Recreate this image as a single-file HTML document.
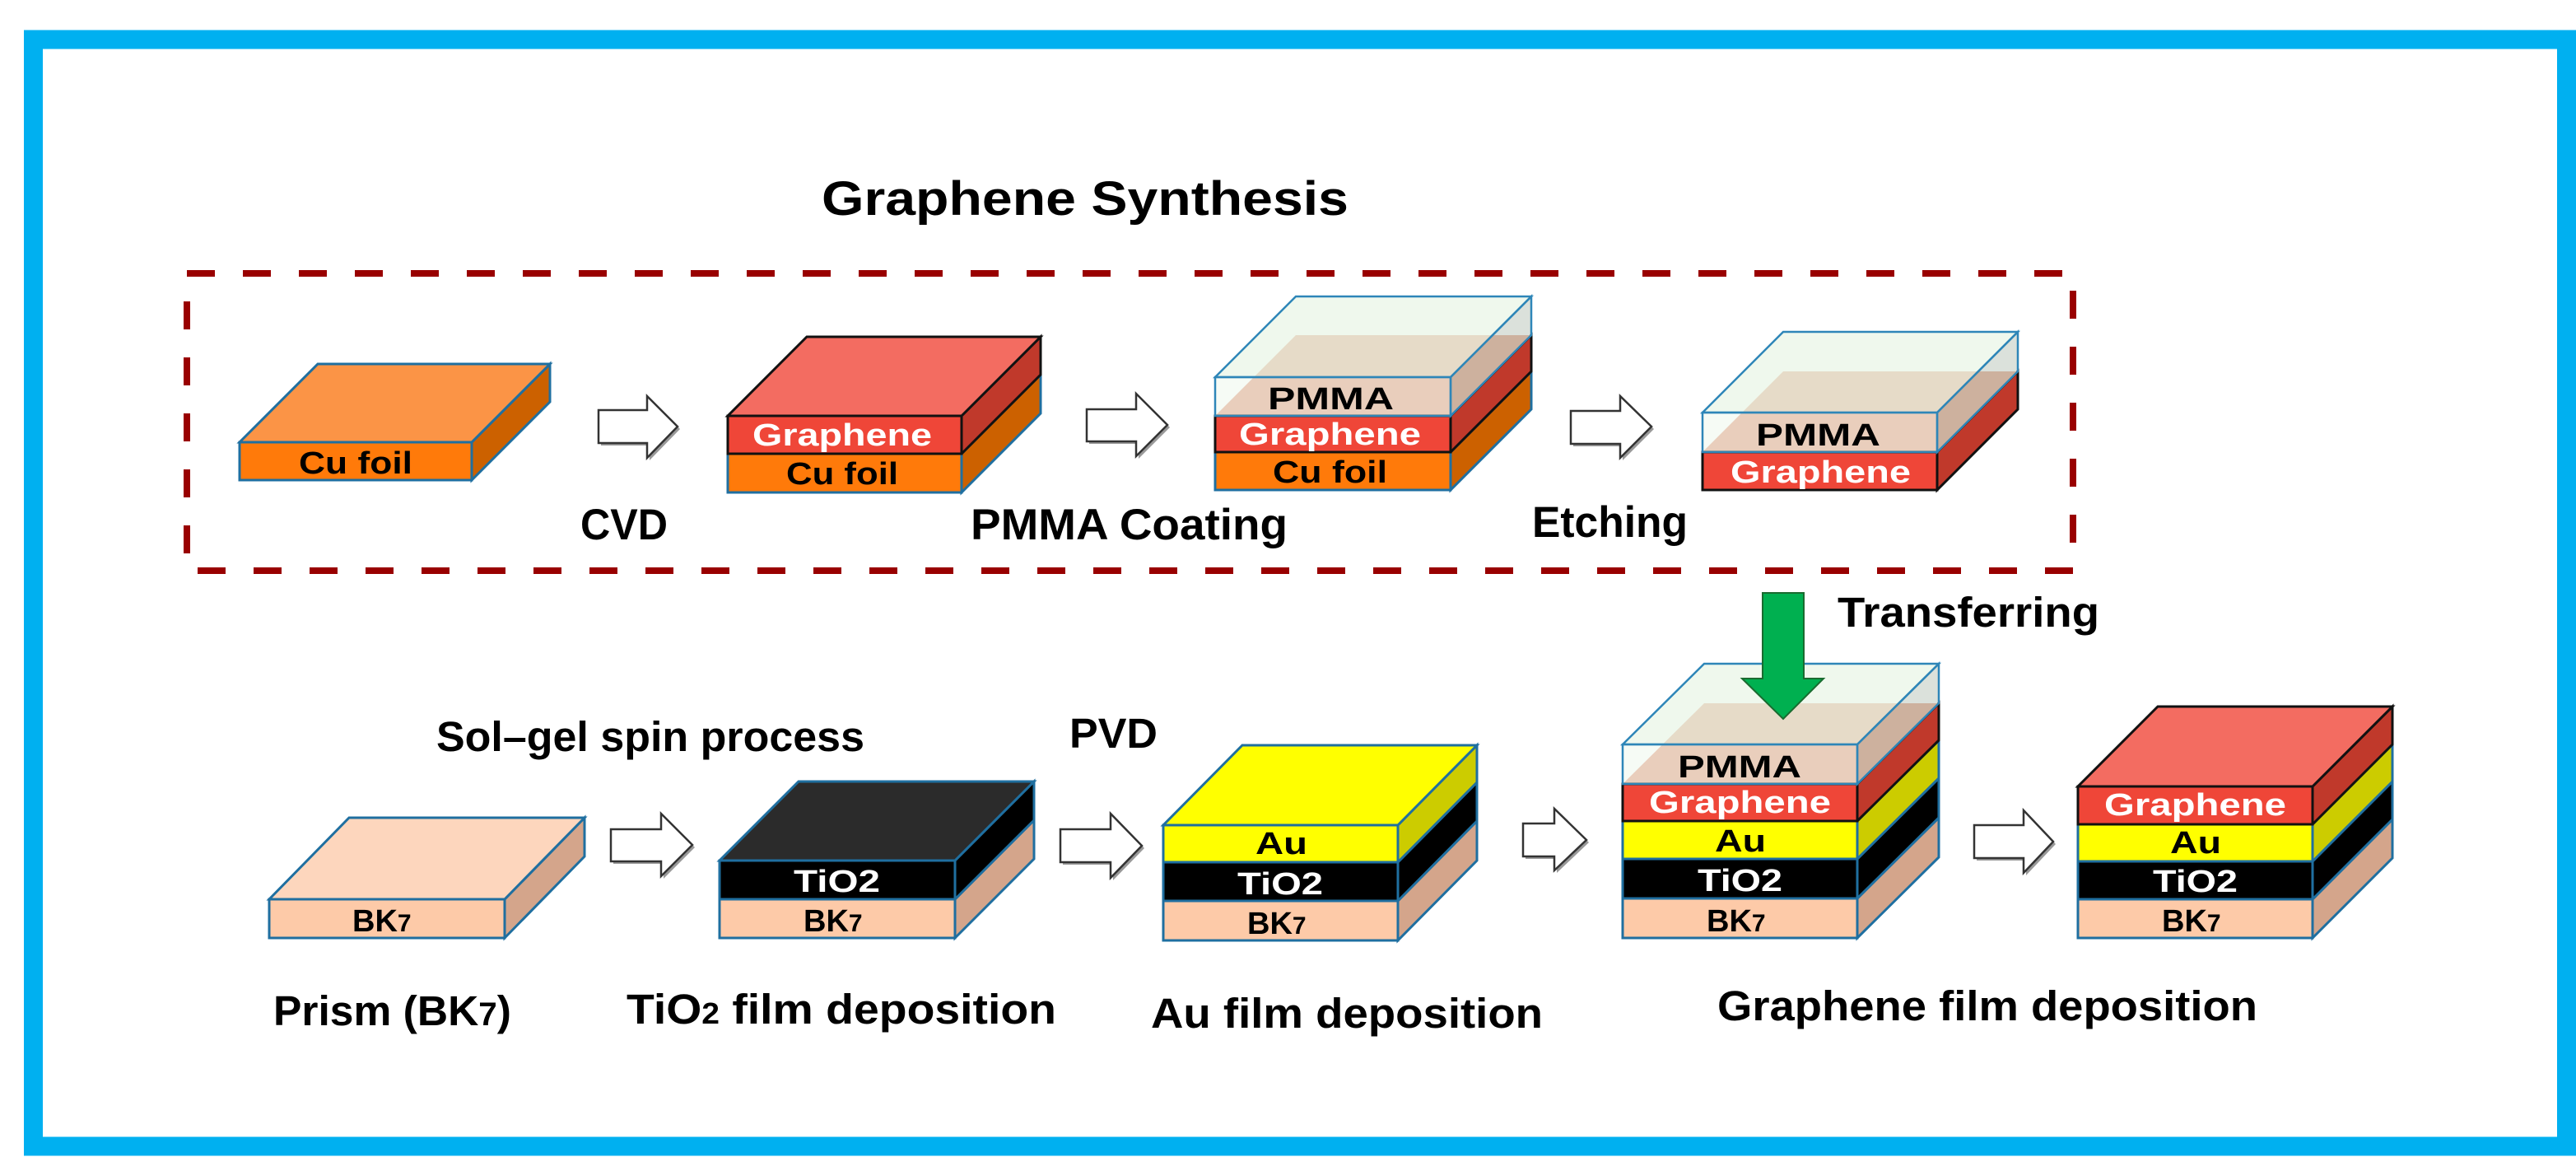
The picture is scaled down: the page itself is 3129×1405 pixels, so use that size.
<!DOCTYPE html>
<html><head><meta charset="utf-8"><style>
html,body{margin:0;padding:0;background:#fff;}
svg{display:block;}
text{font-family:"Liberation Sans",sans-serif;font-weight:bold;}
.b{fill:#000}.w{fill:#fff}
.bl{stroke:#1f6fa0;stroke-width:3}
.bk{stroke:#111;stroke-width:3}
.pm{stroke:#2e86b8;stroke-width:2.5}
.ar{fill:#fff;stroke:#333;stroke-width:2.5}
.as{fill:#999}
</style></head><body>
<svg width="3129" height="1405" viewBox="0 0 3129 1405" xmlns="http://www.w3.org/2000/svg">
<rect x="0" y="0" width="3129" height="1405" fill="#fff"/>
<rect x="40.5" y="48" width="3077" height="1344" fill="none" stroke="#00b0f0" stroke-width="23"/>

<text x="998" y="261" font-size="58" textLength="640" lengthAdjust="spacingAndGlyphs" class="b">Graphene Synthesis</text>
<rect x="227" y="332" width="2291" height="361" fill="none" stroke="#990000" stroke-width="8" stroke-dasharray="34 34"/>

<!-- Block 1 Cu foil -->
<polygon points="573,537 668,442 668,488 573,583" fill="#cc6100" class="bl"/>
<polygon points="291,537 573,537 668,442 386,442" fill="#fb9446" class="bl"/>
<rect x="291" y="537" width="282" height="46" fill="#ff7a0a" class="bl"/>
<text x="363" y="575" font-size="38" textLength="138" lengthAdjust="spacingAndGlyphs" class="b">Cu foil</text>

<!-- Arrow 1 -->
<polygon points="730,501 789,501 789,484 826,521 789,559 789,541 730,541" class="as"/>
<polygon points="727,498 786,498 786,481 823,518 786,556 786,538 727,538" class="ar"/>

<!-- Block 2 -->
<polygon points="1168,551 1264,455 1264,502 1168,598" fill="#cc6100" class="bl"/>
<polygon points="1168,505 1264,409 1264,455 1168,551" fill="#c0392b" class="bk"/>
<polygon points="884,505 1168,505 1264,409 980,409" fill="#f36c61" class="bk"/>
<rect x="884" y="551" width="284" height="47" fill="#ff7a0a" class="bl"/>
<rect x="884" y="505" width="284" height="46" fill="#ef4638" class="bk"/>
<text x="914" y="541" font-size="38" textLength="218" lengthAdjust="spacingAndGlyphs" class="w">Graphene</text>
<text x="955" y="588" font-size="38" textLength="136" lengthAdjust="spacingAndGlyphs" class="b">Cu foil</text>

<!-- Arrow 2 -->
<polygon points="1323,500 1383,500 1383,481 1421,519 1383,557 1383,539 1323,539" class="as"/>
<polygon points="1320,497 1380,497 1380,478 1418,516 1380,554 1380,536 1320,536" class="ar"/>

<!-- Block 3 -->
<polygon points="1762,549 1860,451 1860,497 1762,595" fill="#cc6100" class="bl"/>
<polygon points="1762,505 1860,407 1860,451 1762,549" fill="#c0392b" class="bk"/>
<polygon points="1476,505 1762,505 1860,407 1574,407" fill="#ecbfae"/>
<rect x="1476" y="549" width="286" height="46" fill="#ff7a0a" class="bl"/>
<rect x="1476" y="505" width="286" height="44" fill="#ef4638" class="bk"/>
<polygon points="1476,458 1762,458 1860,360 1574,360" fill="rgba(226,242,222,0.55)" class="pm"/>
<polygon points="1762,458 1860,360 1860,407 1762,505" fill="rgba(110,135,110,0.25)" class="pm"/>
<rect x="1476" y="458" width="286" height="47" fill="rgba(226,242,222,0.3)" class="pm"/>
<text x="1540" y="497" font-size="38" textLength="153" lengthAdjust="spacingAndGlyphs" class="b">PMMA</text>
<text x="1505" y="540" font-size="38" textLength="221" lengthAdjust="spacingAndGlyphs" class="w">Graphene</text>
<text x="1546" y="586" font-size="38" textLength="139" lengthAdjust="spacingAndGlyphs" class="b">Cu foil</text>

<!-- Arrow 3 -->
<polygon points="1911,502 1971,502 1971,484 2009,521 1971,559 1971,542 1911,542" class="as"/>
<polygon points="1908,499 1968,499 1968,481 2006,518 1968,556 1968,539 1908,539" class="ar"/>

<!-- Block 4 -->
<polygon points="2353,549 2451,451 2451,497 2353,595" fill="#c0392b" class="bk"/>
<polygon points="2068,549 2353,549 2451,451 2166,451" fill="#ecbfae"/>
<rect x="2068" y="549" width="285" height="46" fill="#ef4638" class="bk"/>
<polygon points="2068,501 2353,501 2451,403 2166,403" fill="rgba(226,242,222,0.55)" class="pm"/>
<polygon points="2353,501 2451,403 2451,451 2353,549" fill="rgba(110,135,110,0.25)" class="pm"/>
<rect x="2068" y="501" width="285" height="48" fill="rgba(226,242,222,0.3)" class="pm"/>
<text x="2133" y="541" font-size="38" textLength="151" lengthAdjust="spacingAndGlyphs" class="b">PMMA</text>
<text x="2102" y="586" font-size="38" textLength="219" lengthAdjust="spacingAndGlyphs" class="w">Graphene</text>

<text x="705" y="655" font-size="53" textLength="106" lengthAdjust="spacingAndGlyphs" class="b">CVD</text>
<text x="1179" y="655" font-size="53" textLength="385" lengthAdjust="spacingAndGlyphs" class="b">PMMA Coating</text>
<text x="1861" y="652" font-size="53" textLength="189" lengthAdjust="spacingAndGlyphs" class="b">Etching</text>

<text x="2232" y="761" font-size="51" textLength="318" lengthAdjust="spacingAndGlyphs" class="b">Transferring</text>
<text x="530" y="912" font-size="51" textLength="520" lengthAdjust="spacingAndGlyphs" class="b">Sol–gel spin process</text>
<text x="1299" y="908" font-size="51" textLength="107" lengthAdjust="spacingAndGlyphs" class="b">PVD</text>

<!-- Bottom B1 -->
<polygon points="613,1092 710,993 710,1040 613,1139" fill="#d4a58b" class="bl"/>
<polygon points="327,1092 613,1092 710,993 424,993" fill="#fdd6bd" class="bl"/>
<rect x="327" y="1092" width="286" height="47" fill="#fdcaa8" class="bl"/>
<text x="428" y="1131" font-size="38" class="b">BK<tspan font-size="30">7</tspan></text>

<polygon points="745,1010 806,1010 806,991 844,1029 806,1067 806,1049 745,1049" class="as"/>
<polygon points="742,1007 803,1007 803,988 841,1026 803,1064 803,1046 742,1046" class="ar"/>

<!-- Bottom B2 -->
<polygon points="1160,1092 1256,996 1256,1043 1160,1139" fill="#d4a58b" class="bl"/>
<polygon points="1160,1045 1256,949 1256,996 1160,1092" fill="#000" class="bl"/>
<polygon points="874,1045 1160,1045 1256,949 970,949" fill="#2b2b2b" class="bl"/>
<rect x="874" y="1092" width="286" height="47" fill="#fdcaa8" class="bl"/>
<rect x="874" y="1045" width="286" height="47" fill="#000" class="bl"/>
<text x="964" y="1083" font-size="38" textLength="105" lengthAdjust="spacingAndGlyphs" class="w">TiO2</text>
<text x="976" y="1131" font-size="38" class="b">BK<tspan font-size="30">7</tspan></text>

<polygon points="1291,1010 1352,1010 1352,991 1390,1030 1352,1069 1352,1050 1291,1050" class="as"/>
<polygon points="1288,1007 1349,1007 1349,988 1387,1027 1349,1066 1349,1047 1288,1047" class="ar"/>

<!-- Bottom B3 -->
<polygon points="1698,1094 1794,997 1794,1045 1698,1142" fill="#d4a58b" class="bl"/>
<polygon points="1698,1047 1794,950 1794,997 1698,1094" fill="#000" class="bl"/>
<polygon points="1698,1002 1794,905 1794,950 1698,1047" fill="#cccc00" class="bl"/>
<polygon points="1413,1002 1698,1002 1794,905 1509,905" fill="#ffff00" class="bl"/>
<rect x="1413" y="1094" width="285" height="48" fill="#fdcaa8" class="bl"/>
<rect x="1413" y="1047" width="285" height="47" fill="#000" class="bl"/>
<rect x="1413" y="1002" width="285" height="45" fill="#ffff00" class="bl"/>
<text x="1525" y="1037" font-size="38" textLength="63" lengthAdjust="spacingAndGlyphs" class="b">Au</text>
<text x="1503" y="1086" font-size="38" textLength="104" lengthAdjust="spacingAndGlyphs" class="w">TiO2</text>
<text x="1515" y="1134" font-size="38" class="b">BK<tspan font-size="30">7</tspan></text>

<polygon points="1853,1003 1891,1003 1891,985 1930,1023 1891,1060 1891,1043 1853,1043" class="as"/>
<polygon points="1850,1000 1888,1000 1888,982 1927,1020 1888,1057 1888,1040 1850,1040" class="ar"/>

<!-- Bottom B5 -->
<polygon points="2256,1091 2355,993 2355,1041 2256,1139" fill="#d4a58b" class="bl"/>
<polygon points="2256,1043 2355,945 2355,993 2256,1091" fill="#000" class="bl"/>
<polygon points="2256,997 2355,899 2355,945 2256,1043" fill="#cccc00" class="bl"/>
<polygon points="2256,952 2355,854 2355,899 2256,997" fill="#c0392b" class="bk"/>
<polygon points="1971,952 2256,952 2355,854 2070,854" fill="#ecbfae"/>
<rect x="1971" y="1091" width="285" height="48" fill="#fdcaa8" class="bl"/>
<rect x="1971" y="1043" width="285" height="48" fill="#000" class="bl"/>
<rect x="1971" y="997" width="285" height="46" fill="#ffff00" class="bl"/>
<rect x="1971" y="952" width="285" height="45" fill="#ef4638" class="bk"/>
<polygon points="1971,904 2256,904 2355,806 2070,806" fill="rgba(226,242,222,0.55)" class="pm"/>
<polygon points="2256,904 2355,806 2355,854 2256,952" fill="rgba(110,135,110,0.25)" class="pm"/>
<rect x="1971" y="904" width="285" height="48" fill="rgba(226,242,222,0.3)" class="pm"/>
<polygon points="2141,720 2191,720 2191,824 2215,824 2166,873 2116,824 2141,824" fill="#00b050" stroke="#1a6b30" stroke-width="2"/>
<text x="2038" y="944" font-size="38" textLength="150" lengthAdjust="spacingAndGlyphs" class="b">PMMA</text>
<text x="2003" y="987" font-size="38" textLength="221" lengthAdjust="spacingAndGlyphs" class="w">Graphene</text>
<text x="2083" y="1034" font-size="38" textLength="62" lengthAdjust="spacingAndGlyphs" class="b">Au</text>
<text x="2062" y="1082" font-size="38" textLength="103" lengthAdjust="spacingAndGlyphs" class="w">TiO2</text>
<text x="2073" y="1131" font-size="38" class="b">BK<tspan font-size="30">7</tspan></text>

<polygon points="2401,1005 2461,1005 2461,987 2497,1025 2461,1063 2461,1045 2401,1045" class="as"/>
<polygon points="2398,1002 2458,1002 2458,984 2494,1022 2458,1060 2458,1042 2398,1042" class="ar"/>

<!-- Bottom B6 -->
<polygon points="2809,1092 2906,995 2906,1042 2809,1139" fill="#d4a58b" class="bl"/>
<polygon points="2809,1046 2906,949 2906,995 2809,1092" fill="#000" class="bl"/>
<polygon points="2809,1001 2906,904 2906,949 2809,1046" fill="#cccc00" class="bl"/>
<polygon points="2809,955 2906,858 2906,904 2809,1001" fill="#c0392b" class="bk"/>
<polygon points="2524,955 2809,955 2906,858 2621,858" fill="#f36c61" class="bk"/>
<rect x="2524" y="1092" width="285" height="47" fill="#fdcaa8" class="bl"/>
<rect x="2524" y="1046" width="285" height="46" fill="#000" class="bl"/>
<rect x="2524" y="1001" width="285" height="45" fill="#ffff00" class="bl"/>
<rect x="2524" y="955" width="285" height="46" fill="#ef4638" class="bk"/>
<text x="2556" y="990" font-size="38" textLength="221" lengthAdjust="spacingAndGlyphs" class="w">Graphene</text>
<text x="2636" y="1036" font-size="38" textLength="62" lengthAdjust="spacingAndGlyphs" class="b">Au</text>
<text x="2615" y="1083" font-size="38" textLength="103" lengthAdjust="spacingAndGlyphs" class="w">TiO2</text>
<text x="2626" y="1131" font-size="38" class="b">BK<tspan font-size="30">7</tspan></text>

<!-- bottom labels -->
<text x="332" y="1245" font-size="51" class="b" textLength="289" lengthAdjust="spacingAndGlyphs">Prism (BK<tspan font-size="40">7</tspan>)</text>
<text x="761" y="1243" font-size="51" class="b" textLength="522" lengthAdjust="spacingAndGlyphs">TiO<tspan font-size="36">2</tspan> film deposition</text>
<text x="1398" y="1248" font-size="51" textLength="476" lengthAdjust="spacingAndGlyphs" class="b">Au film deposition</text>
<text x="2086" y="1239" font-size="51" textLength="656" lengthAdjust="spacingAndGlyphs" class="b">Graphene film deposition</text>
</svg>
</body></html>
